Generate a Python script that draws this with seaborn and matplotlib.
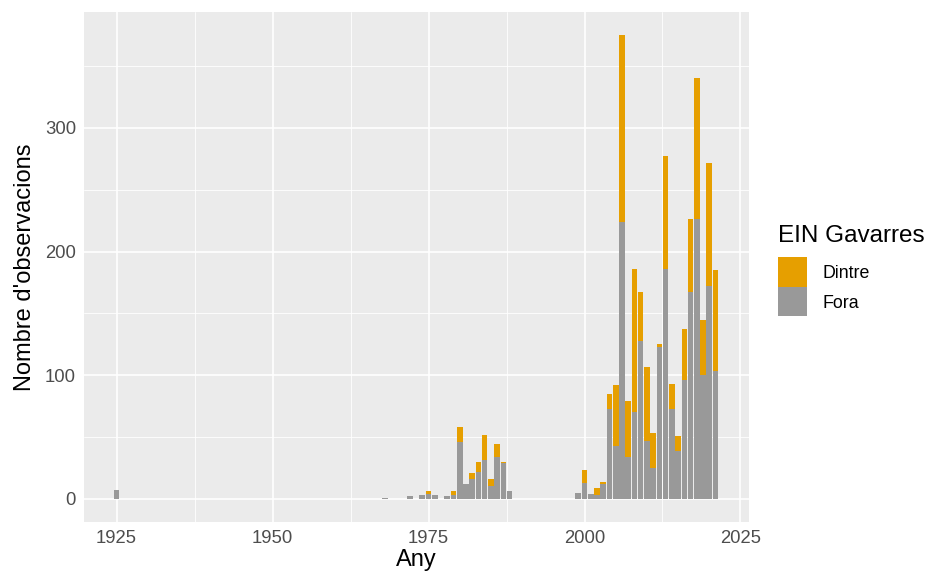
import pandas as pd
import matplotlib
matplotlib.use("Agg")
import matplotlib.pyplot as plt
from matplotlib.patches import Rectangle
import seaborn as sns

# Observations per year, split by location relative to the EIN Gavarres
years = [1925, 1968, 1972, 1974, 1975, 1976, 1978, 1979, 1980, 1981, 1982,
         1983, 1984, 1985, 1986, 1987, 1988, 1999, 2000, 2001, 2002, 2003,
         2004, 2005, 2006, 2007, 2008, 2009, 2010, 2011, 2012, 2013, 2014,
         2015, 2016, 2017, 2018, 2019, 2020, 2021]
dintre = [0, 0, 0, 0, 2, 0, 0, 3, 12, 0, 5,
          8, 21, 6, 10, 1, 0, 0, 10, 0, 6, 2,
          12, 49, 151, 45, 116, 39, 60, 28, 2, 91, 20,
          12, 41, 59, 114, 45, 100, 82]
fora = [7, 1, 2, 3, 4, 3, 2, 3, 46, 12, 16,
        22, 31, 10, 34, 29, 6, 5, 13, 4, 3, 12,
        73, 43, 224, 34, 70, 128, 47, 25, 123, 186, 73,
        39, 96, 167, 226, 100, 172, 103]

groups = ["Dintre", "Fora"]
colors = {"Dintre": "#E69F00", "Fora": "#999999"}

df = pd.concat([
    pd.DataFrame({"Any": years, "n": dintre, "EIN Gavarres": "Dintre"}),
    pd.DataFrame({"Any": years, "n": fora, "EIN Gavarres": "Fora"}),
])

sns.set_theme(style="darkgrid")
plt.rcParams["font.family"] = ["Liberation Sans", "DejaVu Sans"]

W, H = 932, 577
fig = plt.figure(figsize=(W / 100, H / 100), dpi=100)
# panel in pixel terms: left 83.5, right 748.6, top 12, bottom 522
ax = fig.add_axes([83.5 / W, 1 - 522 / H, (748.6 - 83.5) / W, (522 - 12) / H])

sns.histplot(data=df, x="Any", weights="n", hue="EIN Gavarres",
             hue_order=groups, palette=colors, multiple="stack",
             discrete=True, shrink=0.9, linewidth=0, alpha=1,
             legend=False, ax=ax)

ax.set_facecolor("#EBEBEB")
ax.set_xlim(1919.7, 2026.3)
ax.set_ylim(-18.75, 393.75)
ax.set_xticks([1925, 1950, 1975, 2000, 2025])
ax.set_xticks([1937.5, 1962.5, 1987.5, 2012.5], minor=True)
ax.set_yticks([0, 100, 200, 300])
ax.set_yticks([50, 150, 250, 350], minor=True)
ax.grid(which="major", color="white", linewidth=1.2)
ax.grid(which="minor", color="white", linewidth=0.6)
ax.set_axisbelow(True)
for s in ax.spines.values():
    s.set_visible(False)

ax.tick_params(which="major", length=3, width=0.9, color="#333333",
               labelsize=13.3, labelcolor="#4D4D4D", pad=2.5)
ax.tick_params(which="minor", length=0)
ax.set_xlabel("Any", fontsize=17, labelpad=2, color="black")
ax.set_ylabel("Nombre d'observacions", fontsize=17, labelpad=6, color="black")

# legend drawn by hand, placed outside the panel like ggplot's
fig.text(778 / W, 1 - 242 / H, "EIN Gavarres", fontsize=17.5,
         va="baseline", ha="left", color="black")
key_top = 257
for i, g in enumerate(groups):
    y0 = key_top + i * 29.5
    fig.patches.append(Rectangle((778 / W, 1 - (y0 + 29.5) / H), 29 / W, 29.5 / H,
                                 transform=fig.transFigure, facecolor=colors[g],
                                 edgecolor="none"))
    fig.text(822 / W, 1 - (y0 + 14.75) / H, g, fontsize=12.8,
             va="center_baseline", ha="left", color="black")

fig.savefig("out.png", dpi=100)
